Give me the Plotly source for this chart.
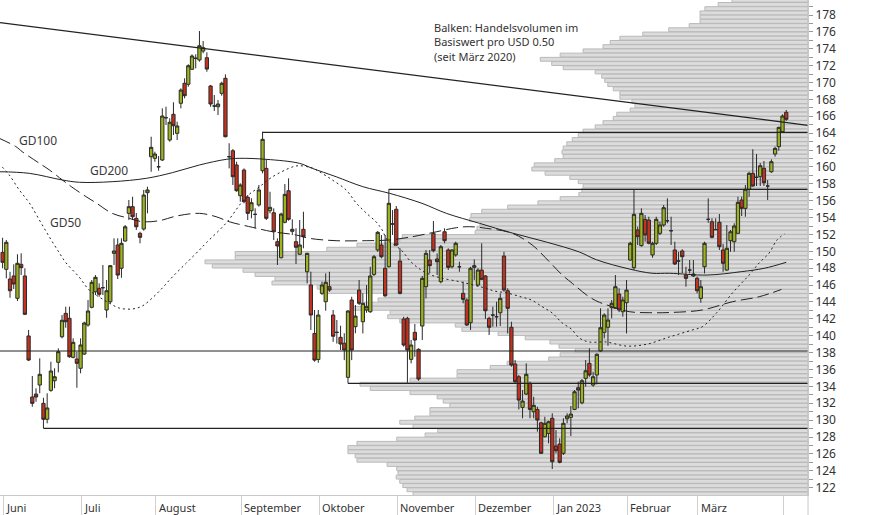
import plotly.graph_objects as go

# ---------------- data ----------------
# trading-day index 0 = 1 June 2022 ... 211 = 4 April 2023
open_ = [149.88, 147.87, 146.72, 147.08, 144.43, 148.46, 147.08, 139.97, 132.74, 133.09,
         134.16, 131.99, 130.10, 133.53, 134.67, 136.85, 139.88, 142.65, 142.06, 137.44,
         137.24, 136.14, 137.83, 141.27, 143.37, 145.21, 145.62, 145.69, 143.05, 144.03,
         149.76, 150.75, 147.99, 151.22, 154.50, 155.29, 153.91, 152.13, 152.64, 156.95,
         161.21, 161.02, 160.02, 160.82, 165.83, 163.19, 166.23, 163.98, 167.54, 169.91,
         169.79, 171.57, 172.87, 172.67, 173.73, 172.94, 169.59, 167.22, 167.13, 168.72,
         170.50, 161.21, 161.92, 160.23, 156.59, 159.63, 156.40, 154.81, 154.38, 155.49,
         159.55, 159.83, 154.81, 154.57, 151.14, 149.24, 153.44, 157.18, 152.37, 151.14,
         149.65, 152.61, 147.58, 146.01, 140.27, 137.19, 145.02, 144.03, 145.81, 142.45,
         140.40, 139.81, 139.11, 135.07, 144.23, 141.07, 145.41, 141.66, 143.05, 142.84,
         147.27, 150.16, 150.75, 147.99, 148.17, 153.24, 154.98, 148.85, 141.98, 142.06,
         137.20, 140.40, 138.39, 141.15, 145.81, 148.97, 152.13, 149.09, 146.40, 152.32,
         150.16, 148.17, 149.57, 148.17, 145.02, 144.23, 141.54, 148.10, 146.01, 147.78,
         147.08, 142.06, 142.45, 142.25, 142.72, 149.44, 145.33, 141.00, 136.65, 135.14,
         131.51, 133.09, 134.36, 130.99, 131.27, 129.69, 128.03, 128.43, 130.22, 126.93,
         127.17, 126.07, 130.17, 130.33, 131.27, 133.84, 132.06, 134.95, 136.73, 134.16,
         135.35, 138.19, 140.40, 141.00, 143.32, 143.25, 144.94, 142.84, 143.91, 148.97,
         148.06, 152.53, 150.67, 153.79, 153.71, 149.57, 150.95, 152.13, 153.12, 153.63,
         152.44, 150.16, 148.85, 150.04, 147.19, 147.78, 147.08, 146.80, 144.43, 148.17,
         153.79, 153.51, 152.57, 153.44, 150.16, 147.78, 151.26, 151.14, 152.13, 156.08,
         155.09, 157.35, 159.24, 158.77, 158.84, 159.83, 157.74, 159.43, 161.53, 162.40,
         164.17, 166.47]
high = [151.61, 151.34, 147.58, 148.46, 149.65, 149.77, 147.99, 140.68, 135.23, 133.77,
        137.32, 132.65, 133.18, 136.92, 136.14, 138.51, 142.45, 143.44, 143.44, 139.69,
        138.11, 139.69, 141.66, 144.23, 146.60, 147.19, 146.21, 148.38, 146.60, 148.38,
        151.54, 151.54, 151.54, 153.12, 156.08, 156.47, 154.54, 152.32, 157.27, 157.66,
        163.58, 161.80, 161.29, 166.94, 167.13, 165.76, 167.66, 165.36, 169.31, 170.50,
        172.16, 173.34, 173.34, 176.10, 174.92, 173.58, 169.71, 168.52, 167.93, 170.10,
        170.97, 162.80, 162.12, 160.62, 158.06, 159.83, 156.67, 156.28, 155.09, 157.86,
        164.17, 160.90, 157.06, 155.09, 151.54, 154.57, 157.97, 158.65, 153.79, 152.73,
        153.71, 154.69, 149.83, 147.58, 143.05, 143.05, 146.40, 147.39, 147.58, 143.05,
        141.86, 141.19, 140.29, 143.05, 144.62, 143.64, 146.60, 145.02, 146.01, 148.17,
        149.57, 152.40, 151.93, 151.93, 157.35, 154.89, 155.37, 150.36, 142.25, 142.25,
        139.49, 141.39, 138.51, 147.08, 150.16, 150.16, 153.59, 149.76, 150.75, 152.73,
        150.36, 150.24, 151.14, 148.77, 146.40, 144.43, 148.17, 149.05, 147.99, 150.95,
        147.19, 142.25, 143.44, 144.03, 145.02, 149.95, 145.62, 141.66, 137.12, 135.35,
        133.56, 136.73, 134.55, 132.77, 131.59, 129.81, 130.40, 129.93, 130.81, 128.83,
        127.85, 130.22, 130.81, 131.67, 133.56, 134.55, 134.87, 137.12, 138.51, 135.73,
        137.92, 143.25, 142.65, 143.25, 144.23, 147.19, 145.62, 144.62, 146.60, 151.14,
        157.38, 152.92, 155.09, 154.30, 154.10, 151.14, 154.10, 153.51, 155.49, 156.28,
        154.10, 151.14, 149.95, 150.24, 148.17, 148.97, 148.97, 147.00, 146.60, 151.14,
        156.28, 153.91, 153.91, 154.42, 150.87, 153.12, 152.53, 153.32, 156.47, 156.47,
        157.86, 159.43, 162.09, 161.53, 160.46, 160.70, 158.45, 160.90, 162.40, 164.76,
        166.23, 166.75]
low = [147.99, 146.80, 144.50, 145.53, 144.11, 147.19, 142.45, 137.00, 131.59, 132.18,
       133.18, 129.03, 129.62, 133.36, 133.77, 135.66, 139.69, 140.95, 137.39, 137.32,
       133.84, 135.55, 137.72, 141.07, 143.25, 144.82, 144.63, 144.82, 142.13, 143.84,
       148.38, 146.72, 146.87, 151.14, 153.71, 153.71, 152.53, 150.95, 152.44, 154.50,
       159.43, 160.62, 159.55, 160.70, 164.97, 162.99, 163.78, 163.19, 166.94, 168.13,
       169.50, 171.48, 171.68, 172.47, 173.46, 171.28, 167.13, 166.63, 166.15, 168.44,
       163.51, 159.83, 157.86, 157.06, 155.88, 155.69, 153.71, 153.91, 152.73, 155.29,
       159.24, 153.71, 154.50, 151.34, 148.38, 149.17, 153.32, 153.63, 151.93, 148.50,
       149.57, 150.36, 146.21, 140.68, 136.92, 136.80, 144.82, 142.96, 145.21, 139.27,
       139.07, 138.31, 137.11, 134.36, 137.11, 140.29, 143.64, 140.27, 142.72, 142.72,
       147.08, 149.95, 149.17, 144.62, 148.10, 151.93, 150.63, 144.90, 138.70, 134.43,
       136.73, 137.51, 134.67, 139.49, 144.43, 147.39, 149.88, 147.19, 146.21, 150.95,
       147.79, 147.99, 149.36, 147.58, 143.84, 141.15, 140.68, 146.60, 145.81, 146.60,
       141.98, 140.08, 141.07, 141.07, 141.15, 145.21, 140.27, 136.33, 134.36, 131.27,
       130.22, 132.97, 130.22, 130.22, 128.63, 125.99, 127.96, 127.25, 124.21, 126.07,
       124.88, 125.87, 129.62, 128.12, 131.18, 131.40, 131.87, 133.96, 135.14, 133.96,
       134.24, 138.11, 139.69, 138.82, 142.06, 143.18, 142.80, 142.25, 140.27, 148.89,
       147.79, 150.75, 150.55, 151.14, 150.83, 149.24, 150.75, 151.93, 152.92, 153.32,
       150.75, 148.38, 147.19, 147.39, 145.81, 147.39, 146.96, 145.02, 143.91, 147.39,
       153.39, 151.54, 152.53, 150.16, 147.58, 147.69, 149.95, 149.95, 152.05, 154.18,
       154.10, 156.47, 157.66, 157.74, 157.74, 157.74, 156.08, 159.30, 161.21, 161.92,
       164.05, 165.47]
close = [148.70, 151.07, 145.33, 146.13, 148.58, 148.06, 142.54, 137.12, 131.99, 132.74,
         135.43, 130.10, 131.44, 135.82, 135.14, 138.11, 141.83, 141.66, 137.51, 139.22,
         136.73, 138.90, 141.51, 142.93, 146.33, 146.92, 144.91, 145.69, 145.33, 148.30,
         150.04, 147.19, 150.95, 152.91, 155.29, 154.10, 152.91, 151.66, 156.67, 157.27,
         162.32, 161.53, 160.02, 166.03, 165.83, 165.29, 164.88, 164.85, 169.11, 168.44,
         171.99, 173.14, 172.87, 174.36, 174.13, 171.60, 167.45, 167.22, 167.45, 169.91,
         163.58, 161.21, 158.84, 157.18, 157.86, 155.88, 154.50, 155.76, 154.38, 157.27,
         163.27, 153.91, 155.21, 152.32, 150.63, 154.42, 156.75, 153.79, 152.61, 150.48,
         150.75, 151.73, 149.76, 142.45, 137.11, 142.45, 146.01, 146.33, 145.41, 139.94,
         140.40, 139.02, 138.31, 142.93, 138.31, 142.33, 143.84, 143.84, 143.44, 147.08,
         149.36, 152.25, 149.36, 144.74, 155.69, 153.24, 150.75, 145.02, 138.90, 138.31,
         138.90, 139.49, 134.87, 146.80, 149.76, 148.30, 150.07, 148.77, 150.55, 151.26,
         148.10, 150.16, 150.95, 148.17, 144.31, 141.27, 147.99, 148.30, 147.78, 146.68,
         142.96, 141.00, 142.45, 142.25, 144.43, 145.41, 143.25, 136.53, 134.55, 132.38,
         132.26, 135.43, 131.27, 131.75, 130.01, 126.07, 129.62, 129.81, 125.07, 126.38,
         125.00, 129.62, 130.49, 130.72, 133.36, 133.56, 134.67, 135.85, 135.35, 135.14,
         137.80, 140.95, 142.45, 141.86, 143.84, 145.81, 143.05, 144.23, 145.41, 150.95,
         154.38, 151.73, 154.50, 151.93, 150.95, 150.95, 153.79, 153.12, 155.17, 153.63,
         152.44, 148.50, 148.85, 149.36, 146.80, 147.78, 147.31, 145.33, 145.81, 150.95,
         153.79, 151.66, 152.57, 150.55, 148.58, 150.36, 152.32, 153.00, 155.80, 155.09,
         157.35, 159.24, 157.74, 158.77, 160.14, 158.13, 157.74, 160.62, 162.20, 164.69,
         166.03, 165.64]
day_index = list(range(len(close)))

# moving averages (read at sample points: trading-day index, price)
gd200_x = [-0.9, 7.2, 16.1, 20.7, 29.5, 38.7, 45.7, 53.0, 60.2, 63.7, 71.0, 79.9, 83.4, 89.8,
           97.0, 104.2, 112.9, 119.5, 128.4, 137.2, 146.4, 155.3, 159.9, 168.7, 174.9, 179.5,
           189.7, 198.9, 205.1, 211.0]
gd200_y = [159.43, 159.24, 158.45, 158.18, 158.25, 158.65, 159.32, 160.23, 160.90, 161.02,
           160.90, 160.43, 159.83, 158.84, 157.66, 156.87, 155.69, 154.50, 153.32, 152.17,
           151.10, 149.92, 149.00, 147.91, 147.40, 147.40, 147.19, 147.59, 147.99, 148.70]
gd100_x = [-0.9, 3.6, 5.3, 9.9, 12.6, 16.1, 18.5, 22.5, 25.2, 29.5, 34.1, 37.6, 42.2, 46.8,
           53.0, 57.5, 61.0, 67.2, 72.6, 79.1, 82.6, 89.8, 97.9, 104.1, 110.3, 115.7, 122.2,
           125.7, 130.2, 137.2, 142.6, 147.2, 150.7, 153.4, 157.9, 160.7, 164.2, 168.7, 174.1,
           179.5, 188.4, 196.5, 203.7, 209.7]
gd100_y = [163.39, 162.40, 161.80, 160.43, 159.64, 158.45, 157.66, 156.47, 155.73, 154.50,
           153.91, 153.51, 153.63, 154.18, 154.50, 154.10, 153.51, 152.85, 152.33, 151.93,
           151.54, 151.26, 151.26, 151.34, 151.73, 152.21, 152.80, 152.92, 152.73, 152.14,
           150.75, 148.77, 147.19, 146.21, 144.62, 143.96, 143.44, 142.85, 142.73, 142.75,
           143.05, 144.03, 144.62, 145.48]
gd50_x = [-0.1, 1.8, 4.5, 7.2, 9.9, 12.6, 15.3, 17.1, 20.6, 23.3, 26.0, 28.7, 31.4, 34.9,
          37.6, 40.3, 43.0, 45.7, 49.5, 53.0, 54.8, 60.2, 65.6, 69.1, 72.6, 78.0, 79.9, 83.4,
          85.3, 88.8, 92.5, 95.2, 97.9, 100.6, 102.2, 103.6, 107.3, 110.0, 112.7, 115.4,
          118.1, 123.5, 128.9, 132.4, 135.9, 139.7, 142.4, 145.3, 148.0, 150.7, 153.1, 155.3,
          157.9, 162.5, 167.9, 173.3, 179.5, 185.7, 188.4, 192.2, 196.5, 201.0, 203.7, 206.4,
          208.5, 210.5]
gd50_y = [159.99, 159.04, 157.27, 155.73, 153.71, 151.70, 149.80, 148.62, 146.96, 145.42,
          144.59, 143.88, 143.28, 143.17, 143.52, 144.47, 145.65, 146.96, 148.62, 150.16,
          150.99, 153.36, 156.44, 157.62, 158.81, 159.99, 160.14, 159.87, 159.43, 158.45,
          157.27, 155.73, 154.54, 153.47, 152.53, 151.34, 150.16, 148.73, 147.79, 147.19,
          146.84, 146.36, 145.77, 145.30, 145.06, 144.59, 144.23, 143.44, 142.69, 141.51,
          140.80, 139.73, 139.26, 139.26, 138.78, 138.98, 139.85, 140.68, 141.07, 142.69,
          145.06, 147.19, 148.62, 149.80, 151.34, 152.05]

# volume profile: relative volume per USD 0.50 bin, from the 179.50-180.00 bin downwards
profile_volume = [12.6, 14.9, 17.1, 17.9, 17.9, 17.9, 19.7, 23.1, 27.4, 31.2,
                  32.8, 34.0, 37.3, 41.1, 44.4, 42.5, 40.6, 35.3, 34.2, 33.7,
                  33.2, 32.3, 31.2, 31.2, 29.2, 28.7, 29.5, 31.7, 32.3, 34.0,
                  35.3, 37.3, 38.1, 39.1, 40.0, 40.6, 40.8, 40.6, 42.0, 45.4,
                  45.8, 43.6, 39.5, 38.1, 37.3, 37.5, 38.0, 41.1, 44.8, 49.8,
                  54.1, 55.9, 56.1, 54.4, 54.9, 55.2, 67.3, 67.7, 74.8, 79.8,
                  95.0, 95.0, 100.0, 98.8, 93.7, 91.7, 88.4, 88.9, 81.4, 79.8,
                  70.3, 71.3, 73.6, 75.5, 69.3, 69.7, 67.7, 58.5, 57.4, 51.4,
                  46.9, 42.8, 41.3, 38.6, 41.1, 43.0, 49.9, 52.7, 58.2, 58.2,
                  66.0, 74.3, 72.6, 66.0, 61.5, 60.5, 59.4, 62.7, 62.7, 65.2,
                  67.7, 65.5, 61.4, 63.5, 68.2, 74.8, 76.3, 76.3, 75.1, 74.8,
                  69.8, 68.2, 68.0, 68.3, 67.7, 67.2, 66.5, 65.5]
profile_top_bin_center = 179.75
profile_bin_size = 0.5
profile_price = [profile_top_bin_center - profile_bin_size * k for k in range(len(profile_volume))]

# trend line (start index, start price) -> (end index, end price)
trend_x = [-0.7, 216.86]
trend_y = [177.1, 164.93]
# horizontal support / resistance: (start index, level)
level_start = [70, 104, -0.7, 93, 11]
level_value = [164.1, 157.35, 138.19, 134.36, 129.03]

month_start_index = [0, 21, 41, 64, 85, 106, 127, 148, 168, 187, 210]
month_labels = ["Juni", "Juli", "August", "September", "Oktober", "November",
                "Dezember", "Jan 2023", "Februar", "März", ""]
y_ticks = list(range(122, 180, 2))
note_lines = ["Balken: Handelsvolumen im", "Basiswert pro USD 0.50", "(seit März 2020)"]

X_RANGE = [-0.70, 216.86]
Y_RANGE = [121.13, 179.777]
INK = "#222222"

fig = go.Figure()

# volume profile bars on primary (reversed) x axis
fig.add_trace(go.Bar(
    x=profile_volume, y=profile_price, orientation="h",
    marker=dict(color="#dcdcdc", line=dict(color="#b9b9b9", width=1)),
    xaxis="x", yaxis="y", hoverinfo="skip", showlegend=False))

# moving averages
fig.add_trace(go.Scatter(x=gd200_x, y=gd200_y, mode="lines", xaxis="x2", yaxis="y",
                         line=dict(color=INK, width=1, shape="spline"), showlegend=False))
fig.add_trace(go.Scatter(x=gd100_x, y=gd100_y, mode="lines", xaxis="x2", yaxis="y",
                         line=dict(color=INK, width=1, dash="12px,5px", shape="spline"),
                         showlegend=False))
fig.add_trace(go.Scatter(x=gd50_x, y=gd50_y, mode="lines", xaxis="x2", yaxis="y",
                         line=dict(color=INK, width=1, dash="2px,3px", shape="spline"),
                         showlegend=False))

# trend line and levels
fig.add_trace(go.Scatter(x=trend_x, y=trend_y, mode="lines", xaxis="x2", yaxis="y",
                         line=dict(color=INK, width=1.2), showlegend=False))
for xs, lv in zip(level_start, level_value):
    fig.add_trace(go.Scatter(x=[xs, X_RANGE[1]], y=[lv, lv], mode="lines",
                             xaxis="x2", yaxis="y", line=dict(color=INK, width=1.2),
                             showlegend=False))

# candles
fig.add_trace(go.Candlestick(
    x=day_index, open=open_, high=high, low=low, close=close,
    xaxis="x2", yaxis="y",
    increasing=dict(fillcolor="#9db41f", line=dict(color="#2a2a2a", width=1)),
    decreasing=dict(fillcolor="#c4321f", line=dict(color="#2a2a2a", width=1)),
    whiskerwidth=0, showlegend=False, hoverinfo="skip"))

annotations = []
for idx, lab in zip(month_start_index, month_labels):
    if lab:
        annotations.append(dict(x=idx + 0.45, y=-0.0245, xref="x2", yref="paper",
                                text=lab, showarrow=False, xanchor="left", yanchor="middle",
                                font=dict(family="Noto Sans", size=11, color="#333333")))
for txt, xx, yy in [("GD100", 3.9, 163.19), ("GD200", 23.0, 159.52), ("GD50", 12.2, 153.47)]:
    annotations.append(dict(x=xx, y=yy, xref="x2", yref="y", text=txt, showarrow=False,
                            xanchor="left", yanchor="middle",
                            font=dict(family="Noto Sans", size=12, color="#3a3a3a")))
for k, line in enumerate(note_lines):
    annotations.append(dict(x=0.5347, y=1 - (27.3 + 14.5 * k) / 495, xref="paper", yref="paper",
                            text=line, showarrow=False, xanchor="left", yanchor="middle",
                            align="left",
                            font=dict(family="Noto Sans", size=11, color="#333333")))

fig.update_layout(
    width=874, height=515,
    margin=dict(l=0, r=66, t=0, b=20),
    paper_bgcolor="white", plot_bgcolor="white",
    bargap=0.08, boxgap=0.12, boxgroupgap=0.0,
    showlegend=False,
    xaxis=dict(range=[134.0, 0], visible=False, domain=[0, 1], fixedrange=True),
    xaxis2=dict(range=X_RANGE, overlaying="x", anchor="y", side="bottom",
                showgrid=False, zeroline=False, showline=True, linecolor="#c8c8c8",
                tickvals=[m + 0.2 for m in month_start_index], ticks="outside",
                ticklen=20, tickcolor="#d0d0d0", tickwidth=1, showticklabels=False,
                rangeslider=dict(visible=False)),
    yaxis=dict(range=Y_RANGE, side="right", showgrid=False, zeroline=False,
               showline=True, linecolor="#c8c8c8", tickvals=y_ticks, ticks="outside",
               ticklen=4, tickcolor="#999999",
               minor=dict(dtick=1, tick0=0, ticks="outside", ticklen=4, tickcolor="#999999"),
               tickfont=dict(family="Noto Sans", size=12, color="#333333")),
    annotations=annotations,
    shapes=[dict(type="line", xref="paper", yref="paper", x0=1, x1=1, y0=-0.045, y1=1,
                 line=dict(color="#c8c8c8", width=1))],
    font=dict(family="Noto Sans"),
)

fig.write_html("out.html", config={"displayModeBar": False, "staticPlot": True},
               post_script="document.body.style.margin='0';document.body.style.overflow='hidden';")
